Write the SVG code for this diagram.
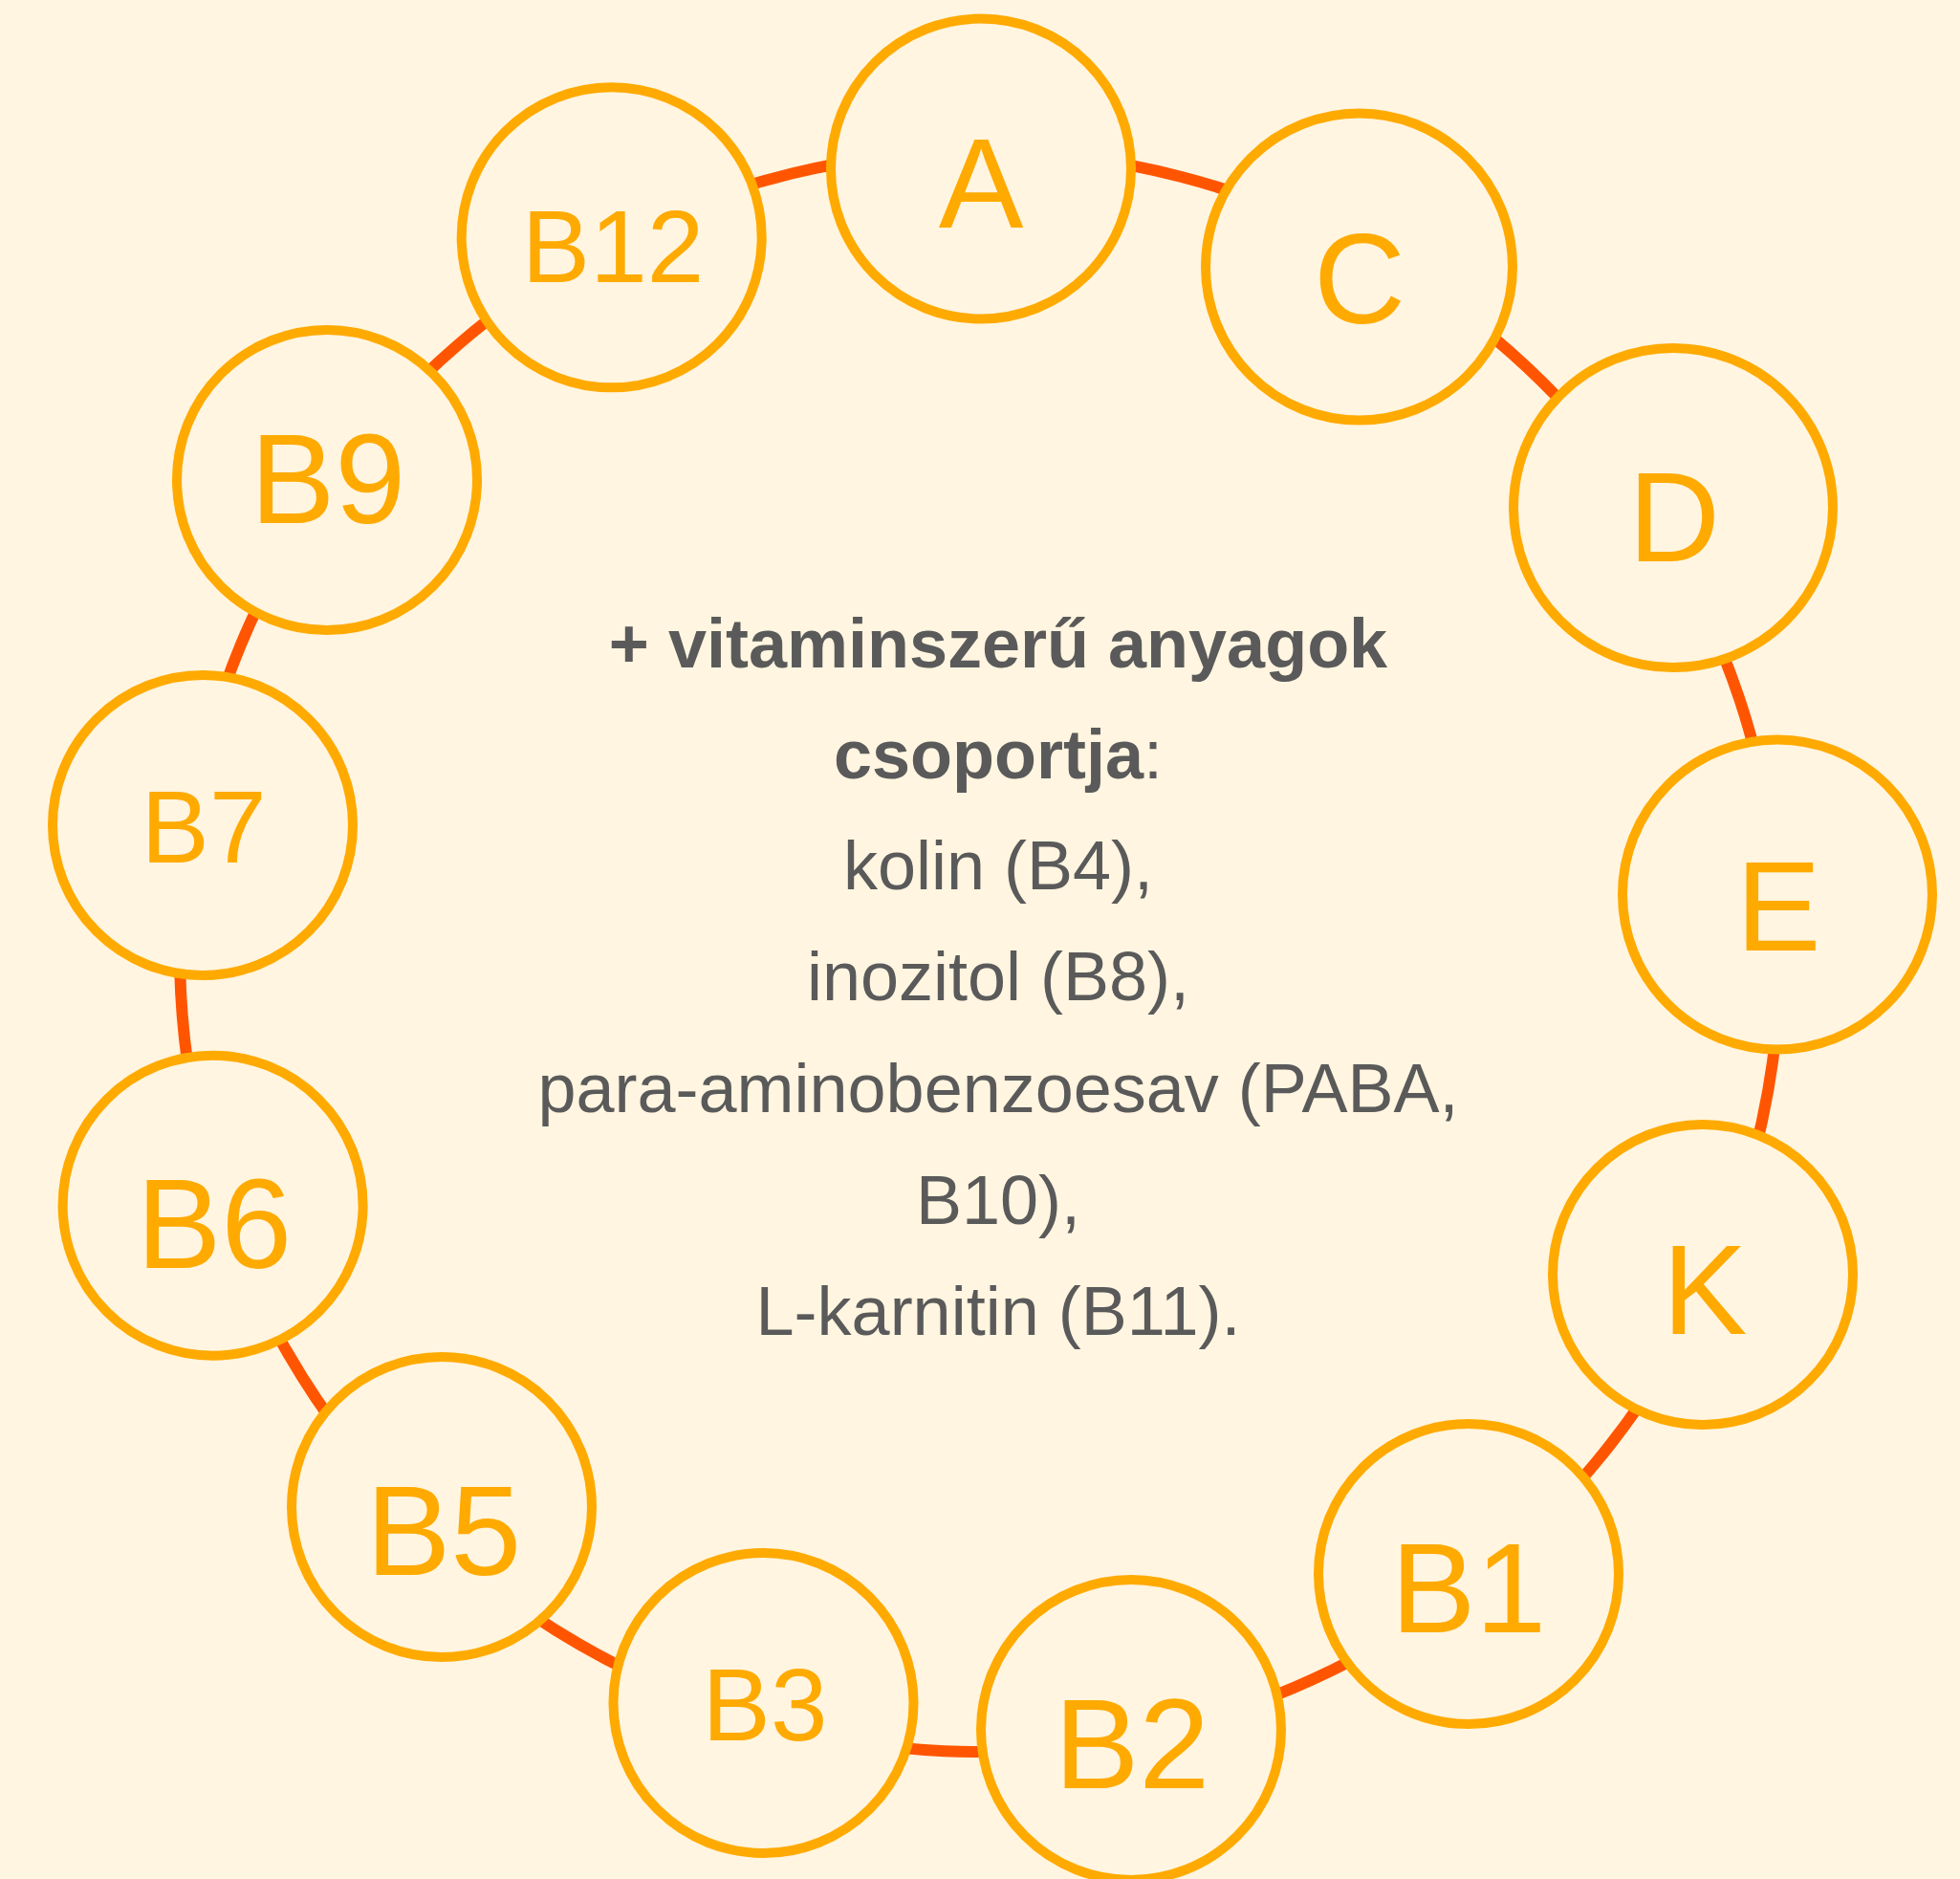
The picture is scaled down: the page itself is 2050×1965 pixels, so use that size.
<svg xmlns="http://www.w3.org/2000/svg" width="2050" height="1965" viewBox="0 0 2050 1965">
  <style>
    .node circle { fill: #FFF5E0; stroke: #FFAA00; stroke-width: 10; }
    .node text { fill: #FFAA00; font-family: "Liberation Sans", Arial, sans-serif; font-size: 133px; text-anchor: middle; }
    .node text.sm { font-size: 107px; }
    .link { fill: none; stroke: #FF5500; stroke-width: 12; }
    .body { fill: #5A5A5A; font-family: "Liberation Sans", Arial, sans-serif; font-size: 72px; text-anchor: middle; }
    .b { font-weight: bold; }
  </style>
  <rect x="0" y="0" width="2050" height="1965" fill="#FFF5E0"/>
  <g id="connectors">
    <path class="link" d="M1026.0,158.0 A837,837 0 0 1 1430.4,262.7"/>
    <path class="link" d="M1430.4,262.7 A837,837 0 0 1 1730.0,543.8"/>
    <path class="link" d="M1730.0,543.8 A837,837 0 0 1 1859.9,935.4"/>
    <path class="link" d="M1859.9,935.4 A837,837 0 0 1 1789.1,1336.6"/>
    <path class="link" d="M1789.1,1336.6 A837,837 0 0 1 1541.9,1653.3"/>
    <path class="link" d="M1541.9,1653.3 A837,837 0 0 1 1184.4,1816.7"/>
    <path class="link" d="M1184.4,1816.7 A837,837 0 0 1 793.2,1799.3"/>
    <path class="link" d="M793.2,1799.3 A837,837 0 0 1 442.5,1596.1"/>
    <path class="link" d="M442.5,1596.1 A837,837 0 0 1 230.5,1258.2"/>
    <path class="link" d="M230.5,1258.2 A837,837 0 0 1 198.8,860.9"/>
    <path class="link" d="M198.8,860.9 A837,837 0 0 1 346.4,505.0"/>
    <path class="link" d="M346.4,505.0 A837,837 0 0 1 641.2,251.2"/>
    <path class="link" d="M641.2,251.2 A837,837 0 0 1 1026.0,158.0"/>
  </g>
  <g id="node-A" class="node"><circle cx="1026" cy="176.5" r="157"/><text x="1026" y="238">A</text></g>
  <g id="node-C" class="node"><circle cx="1421.5" cy="279" r="160.5"/><text x="1422" y="338">C</text></g>
  <g id="node-D" class="node"><circle cx="1750" cy="531" r="167"/><text x="1751" y="587">D</text></g>
  <g id="node-E" class="node"><circle cx="1859" cy="935.5" r="162"/><text x="1860" y="994">E</text></g>
  <g id="node-K" class="node"><circle cx="1781" cy="1333" r="157"/><text x="1783" y="1395">K</text></g>
  <g id="node-B1" class="node"><circle cx="1536" cy="1646" r="157"/><text x="1536" y="1707">B1</text></g>
  <g id="node-B2" class="node"><circle cx="1183" cy="1809" r="157"/><text x="1184" y="1870">B2</text></g>
  <g id="node-B3" class="node"><circle cx="798.5" cy="1781" r="157"/><text class="sm" x="800" y="1820">B3</text></g>
  <g id="node-B5" class="node"><circle cx="462" cy="1576" r="157"/><text x="464" y="1647">B5</text></g>
  <g id="node-B6" class="node"><circle cx="222.6" cy="1260.7" r="157"/><text x="224" y="1326">B6</text></g>
  <g id="node-B7" class="node"><circle cx="212" cy="863" r="157"/><text class="sm" x="213" y="902">B7</text></g>
  <g id="node-B9" class="node"><circle cx="342" cy="502" r="157"/><text x="343" y="547">B9</text></g>
  <g id="node-B12" class="node"><circle cx="639.7" cy="248.3" r="157"/><text class="sm" x="641" y="295">B12</text></g>
  <g id="center-text">
    <text class="body b" x="1044" y="698">+ vitaminszerű anyagok</text>
    <text class="body" x="1044" y="814"><tspan class="b">csoportja</tspan>:</text>
    <text class="body" x="1044" y="930">kolin (B4),</text>
    <text class="body" x="1044" y="1046">inozitol (B8),</text>
    <text class="body" x="1044" y="1163">para-aminobenzoesav (PABA,</text>
    <text class="body" x="1044" y="1280">B10),</text>
    <text class="body" x="1044" y="1396">L-karnitin (B11).</text>
  </g>
</svg>
